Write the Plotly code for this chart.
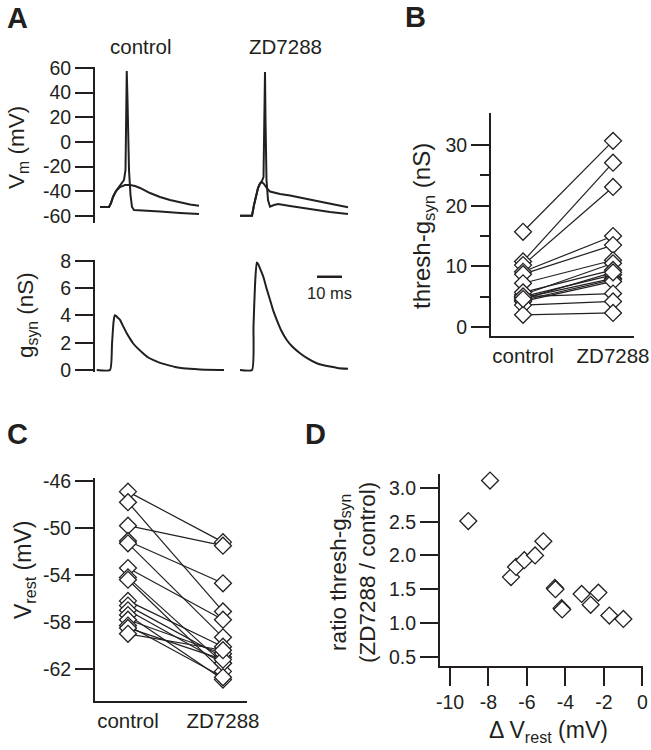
import plotly.graph_objects as go

W, H = 651, 750
INK = "#231f20"
FONT = "Liberation Sans, Arial, sans-serif"

# ---------------- data ----------------
conditions = ["control", "ZD7288"]

# Panel A: membrane potential sweeps (ms, mV)
ctl_sub_t = [0, 3.6, 4.4, 5.2, 6.4, 8.0, 10.0, 12.0, 14.0, 16.0, 20.0, 24.0, 28.0, 32.0, 36.0, 39.6]
ctl_sub_v = [-52.7, -52.7, -49.5, -44.6, -39.8, -36.5, -34.9, -34.9, -35.7, -37.3, -41.4, -44.6, -47.1, -49.1, -50.7, -51.7]
ctl_spk_t = [0, 3.6, 4.4, 5.2, 6.4, 8.0, 9.6, 10.2, 10.6, 10.7, 11.0, 11.6, 12.2, 12.8, 13.6, 16.0, 24.0, 32.0, 39.6]
ctl_spk_v = [-52.7, -52.7, -49.5, -44.6, -39.8, -35.7, -30.8, -22.7, 34.0, 57.6, 34.0, -22.7, -43.0, -52.7, -55.2, -55.6, -56.4, -57.6, -58.4]

zd_sub_t = [0, 4.8, 5.6, 6.4, 7.2, 8.0, 8.8, 9.6, 10.8, 12.0, 14.0, 16.0, 20.0, 24.0, 30.0, 35.2, 43.2]
zd_sub_v = [-59.8, -59.8, -51.1, -43.0, -37.3, -33.7, -32.5, -34.1, -37.7, -40.2, -41.4, -42.2, -43.4, -44.9, -47.5, -49.7, -53.0]
zd_spk_t = [0, 4.8, 5.6, 6.4, 7.2, 8.0, 8.8, 9.4, 9.8, 10.0, 10.2, 10.6, 11.2, 12.0, 13.6, 15.2, 20.0, 28.0, 36.0, 43.2]
zd_spk_v = [-59.8, -59.8, -51.1, -43.0, -37.3, -33.7, -31.5, -28.5, 17.8, 56.8, 17.8, -30.8, -47.1, -52.5, -51.1, -50.3, -51.9, -54.4, -56.8, -58.4]

# Panel A: synaptic conductance (ms, nS)
ctl_g_t = [-1.3, 4.0, 4.8, 5.4, 5.9, 6.5, 7.0, 8.0, 9.3, 10.7, 12.0, 13.2, 15.0, 17.2, 19.0, 21.2, 24.0, 26.8, 30.0, 33.2, 40.0, 49.6]
ctl_g_v = [0, 0, 1.9, 3.5, 4.02, 3.95, 3.85, 3.68, 3.2, 2.7, 2.3, 1.96, 1.6, 1.23, 0.95, 0.74, 0.52, 0.37, 0.22, 0.12, 0.04, 0.0]
zd_g_t = [0, 4.8, 5.4, 6.0, 6.7, 7.3, 8.0, 9.3, 10.6, 12.0, 13.3, 14.7, 16.5, 18.7, 21.0, 24.0, 27.0, 30.7, 33.0, 36.0, 39.0, 43.2]
zd_g_v = [0, 0, 3.2, 6.2, 7.89, 7.75, 7.45, 6.86, 6.0, 5.15, 4.35, 3.68, 2.9, 2.2, 1.7, 1.23, 0.85, 0.49, 0.37, 0.25, 0.15, 0.08]

# Panel B: threshold conductance per cell (nS)
b_control = [15.7, 10.8, 10.2, 9.1, 8.7, 7.2, 5.3, 5.7, 5.0, 4.8, 4.4, 4.2, 5.0, 3.6, 2.0, 4.6]
b_zd = [30.7, 27.1, 23.1, 15.0, 13.5, 11.0, 10.5, 9.4, 8.6, 8.0, 7.8, 7.5, 5.5, 4.2, 2.3, 9.0]

# Panel C: resting potential per cell (mV)
c_control = [-46.9, -47.8, -49.8, -51.1, -51.3, -53.4, -54.2, -54.4, -56.2, -56.6, -57.0, -57.4, -57.8, -58.3, -58.5, -59.0]
c_zd = [-51.2, -57.1, -51.5, -54.7, -59.3, -57.8, -61.5, -62.2, -60.1, -61.0, -61.5, -62.9, -60.7, -62.7, -61.2, -60.4]

# Panel D: ratio vs change in resting potential
d_dv = [-9.05, -7.92, -6.83, -6.57, -6.14, -5.58, -5.15, -4.55, -4.52, -4.20, -4.17, -3.16, -2.69, -2.29, -1.72, -0.99]
d_ratio = [2.51, 3.11, 1.68, 1.83, 1.93, 2.00, 2.21, 1.52, 1.50, 1.22, 1.20, 1.43, 1.27, 1.45, 1.11, 1.06]

# tick labels
vm_tick_vals = [-60, -40, -20, 0, 20, 40, 60]
vm_tick_text = ["-60", "-40", "-20", "0", "20", "40", "60"]
g_tick_vals = [0, 2, 4, 6, 8]
g_tick_text = ["0", "2", "4", "6", "8"]
b_tick_vals = [0, 10, 20, 30]
b_tick_text = ["0", "10", "20", "30"]
b_minor_vals = [5, 15, 25]
c_tick_vals = [-62, -58, -54, -50, -46]
c_tick_text = ["-62", "-58", "-54", "-50", "-46"]
d_y_tick_vals = [0.5, 1.0, 1.5, 2.0, 2.5, 3.0]
d_y_tick_text = ["0.5", "1.0", "1.5", "2.0", "2.5", "3.0"]
d_x_tick_vals = [-10, -8, -6, -4, -2, 0]
d_x_tick_text = ["-10", "-8", "-6", "-4", "-2", "0"]
scale_bar_ms = 10


# ---------------- helpers ----------------
def xdom(a, b):
    return [a / W, b / W]


def ydom(top, bottom):
    return [1 - bottom / H, 1 - top / H]


def px(x):
    return x / W


def py(y):
    return 1 - y / H


tickfont = dict(family=FONT, size=19.5, color=INK)
axis_on = dict(showgrid=False, zeroline=False, showline=True, linecolor=INK, linewidth=2,
               ticks="outside", ticklen=18, tickwidth=2, tickcolor=INK, tickfont=tickfont,
               automargin=False)
hidden = dict(visible=False, showgrid=False, zeroline=False, automargin=False)

fig = go.Figure()

trace_line = dict(color=INK, width=2)
smooth_line = dict(color=INK, width=2, shape="spline", smoothing=0.5)

# Panel A traces
fig.add_trace(go.Scatter(x=ctl_sub_t, y=ctl_sub_v, mode="lines", line=trace_line, xaxis="x", yaxis="y"))
fig.add_trace(go.Scatter(x=ctl_spk_t, y=ctl_spk_v, mode="lines", line=trace_line, xaxis="x", yaxis="y"))
fig.add_trace(go.Scatter(x=zd_sub_t, y=zd_sub_v, mode="lines", line=trace_line, xaxis="x2", yaxis="y2"))
fig.add_trace(go.Scatter(x=zd_spk_t, y=zd_spk_v, mode="lines", line=trace_line, xaxis="x2", yaxis="y2"))
fig.add_trace(go.Scatter(x=ctl_g_t, y=ctl_g_v, mode="lines", line=smooth_line, xaxis="x3", yaxis="y3"))
fig.add_trace(go.Scatter(x=zd_g_t, y=zd_g_v, mode="lines", line=smooth_line, xaxis="x4", yaxis="y4"))


def paired(ctl, zd, xa, ya):
    xs, ys = [], []
    for a, b in zip(ctl, zd):
        xs += [conditions[0], conditions[1], None]
        ys += [a, b, None]
    fig.add_trace(go.Scatter(x=xs, y=ys, mode="lines", line=dict(color=INK, width=1.2),
                             xaxis=xa, yaxis=ya, connectgaps=False))
    xm, ym = [], []
    for a, b in zip(ctl, zd):
        xm += [conditions[0], conditions[1]]
        ym += [a, b]
    fig.add_trace(go.Scatter(x=xm, y=ym, mode="markers", cliponaxis=False,
                             marker=dict(symbol="diamond", size=13, color="white",
                                         line=dict(color=INK, width=1.3)),
                             xaxis=xa, yaxis=ya))


paired(b_control, b_zd, "x5", "y5")
paired(c_control, c_zd, "x6", "y6")

fig.add_trace(go.Scatter(x=d_dv, y=d_ratio, mode="markers", cliponaxis=False,
                         marker=dict(symbol="diamond", size=13, color="white",
                                     line=dict(color=INK, width=1.3)),
                         xaxis="x7", yaxis="y7"))

# scale bar (10 ms) in ZD conductance axes
fig.add_shape(type="line", xref="x4", yref="y4", x0=30.8, x1=30.8 + scale_bar_ms, y0=6.84, y1=6.84,
              line=dict(color=INK, width=2.5))

cat_axis = dict(showgrid=False, zeroline=False, showline=True, linecolor=INK, linewidth=2,
                type="category", categoryorder="array", categoryarray=conditions,
                ticks="", automargin=False,
                tickfont=dict(family=FONT, size=20.5, color=INK))

fig.update_layout(
    width=W, height=H, margin=dict(l=0, r=0, t=0, b=0, pad=0, autoexpand=False),
    paper_bgcolor="white", plot_bgcolor="white", showlegend=False,
    font=dict(family=FONT, color=INK),
    xaxis=dict(hidden, domain=xdom(95, 230), range=[-2, 52], anchor="y"),
    yaxis=dict(axis_on, domain=ydom(67, 223), range=[-65.7, 60.8], anchor="x",
               tickmode="array", tickvals=vm_tick_vals, ticktext=vm_tick_text),
    xaxis2=dict(hidden, domain=xdom(235, 360), range=[-2, 48], anchor="y2"),
    yaxis2=dict(hidden, domain=ydom(67, 223), range=[-65.7, 60.8], anchor="x2"),
    xaxis3=dict(hidden, domain=xdom(95, 230), range=[-2, 52], anchor="y3"),
    yaxis3=dict(axis_on, domain=ydom(260, 372), range=[-0.15, 8.07], anchor="x3",
                tickmode="array", tickvals=g_tick_vals, ticktext=g_tick_text),
    xaxis4=dict(hidden, domain=xdom(235, 360), range=[-2, 48], anchor="y4"),
    yaxis4=dict(hidden, domain=ydom(260, 372), range=[-0.15, 8.07], anchor="x4"),
    xaxis5=dict(cat_axis, domain=xdom(491, 634), range=[-0.356, 1.233], anchor="y5"),
    yaxis5=dict(axis_on, domain=ydom(113, 336), range=[-1.5, 35.3], anchor="x5",
                tickmode="array", tickvals=b_tick_vals, ticktext=b_tick_text,
                minor=dict(tickmode="array", tickvals=b_minor_vals, ticks="outside",
                           ticklen=9, tickwidth=2, tickcolor=INK, showgrid=False)),
    xaxis6=dict(cat_axis, domain=xdom(95, 247), range=[-0.347, 1.253], anchor="y6"),
    yaxis6=dict(axis_on, domain=ydom(478, 701), range=[-64.72, -45.74], anchor="x6",
                tickmode="array", tickvals=c_tick_vals, ticktext=c_tick_text),
    xaxis7=dict(axis_on, domain=xdom(440, 643), range=[-10.52, 0.03], anchor="y7",
                tickmode="array", tickvals=d_x_tick_vals, ticktext=d_x_tick_text),
    yaxis7=dict(axis_on, domain=ydom(474, 666), range=[0.363, 3.207], anchor="x7",
                tickmode="array", tickvals=d_y_tick_vals, ticktext=d_y_tick_text),
)

ann = []


def text(x, y, s, size, angle=0, bold=False, xanchor="center"):
    ann.append(dict(x=px(x), y=py(y), xref="paper", yref="paper", text=s, showarrow=False,
                    textangle=angle, xanchor=xanchor, yanchor="middle",
                    font=dict(family=FONT, size=size, color=INK,
                              weight="bold" if bold else "normal")))


# panel letters
text(5, 18.5, "A", 29, bold=True, xanchor="left")
text(403, 17.5, "B", 29, bold=True, xanchor="left")
text(5, 434, "C", 29, bold=True, xanchor="left")
text(303, 434, "D", 29, bold=True, xanchor="left")

# column titles in A
text(141, 46, "control", 20.5)
text(285, 46, "ZD7288", 20.5)

# axis titles
text(18, 148, "V<sub>m</sub> (mV)", 22.5, angle=-90)
text(27, 315, "g<sub>syn</sub> (nS)", 22.5, angle=-90)
text(423, 226, "thresh-g<sub>syn</sub> (nS)", 24, angle=-90)
text(24, 570, "V<sub>rest</sub> (mV)", 23, angle=-90)
text(353, 572, "ratio thresh-g<sub>syn</sub><br>(ZD7288 / control)", 22.5, angle=-90)
text(548, 731, "\u0394 V<sub>rest</sub> (mV)", 23)

# scale bar label
text(329, 293, "10 ms", 16.5)

fig.update_layout(annotations=ann)
fig.write_html("out.html", config={"displayModeBar": False},
               post_script="document.body.style.margin='0px';")
